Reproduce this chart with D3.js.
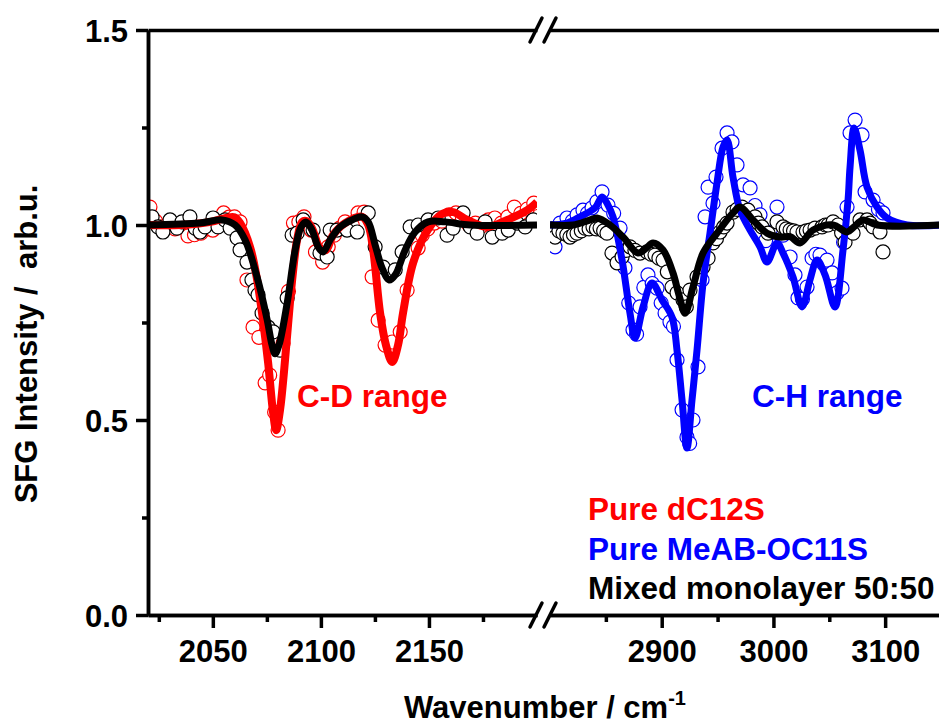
<!DOCTYPE html>
<html><head><meta charset="utf-8">
<script src="https://cdn.jsdelivr.net/npm/d3@7"></script>
<style>
body{margin:0;background:#fff}
svg{display:block}
text{font-family:"Liberation Sans",Arial,sans-serif;font-weight:bold}
</style>
</head><body>
<svg id="c" width="939" height="724"></svg>
<script>
// ---- axes / ticks ----
const leftDomain = [2020, 2200];
const rightDomain = [2800, 3150];
const yDomain = [0, 1.5];
const yTicks = [0, 0.5, 1.0, 1.5];
const yMinor = [0.25, 0.75, 1.25];
const xTicksLeft = [2050, 2100, 2150];
const xMinorLeft = [2025, 2075, 2125, 2175];
const xTicksRight = [2900, 3000, 3100];
const xMinorRight = [2850, 2950, 3050];
const legendLabels = ["Pure dC12S", "Pure MeAB-OC11S", "Mixed monolayer 50:50"];
const seriesColors = ["#ff0000", "#0000ff", "#000000"];

// ---- data: [wavenumber, intensity] ----
const redPoints = [[2020.9,1.046],[2023.5,1.010],[2026.5,0.995],[2029.5,1.005],[2032.5,0.990],[2035.5,1.000],[2038.5,0.972],[2041.5,0.975],[2044.5,0.979],[2047.5,0.990],[2050.0,0.987],[2052.5,1.010],[2055.0,1.031],[2057.5,1.020],[2060.0,1.021],[2062.6,1.008],[2065.8,0.859],[2068.6,0.738],[2071.3,0.712],[2074.2,0.595],[2076.3,0.615],[2078.6,0.520],[2080.2,0.474],[2082.5,0.697],[2085.0,0.830],[2087.3,1.005],[2089.8,1.008],[2092.2,1.021],[2095.5,0.987],[2097.5,0.931],[2100.8,0.905],[2103.4,0.944],[2106.2,0.974],[2108.7,0.992],[2111.2,1.008],[2114.5,1.000],[2117.2,1.031],[2120.0,1.033],[2123.7,0.867],[2126.5,0.756],[2129.7,0.692],[2133.0,0.700],[2136.7,0.726],[2139.9,0.833],[2145.0,0.941],[2146.9,0.974],[2149.5,0.990],[2152.5,1.005],[2156.0,1.010],[2159.3,1.026],[2162.5,1.031],[2165.5,1.018],[2168.5,1.000],[2171.5,1.005],[2174.5,0.998],[2177.5,1.013],[2180.5,1.018],[2183.5,1.005],[2186.5,1.021],[2189.5,1.046],[2192.5,1.030],[2195.5,1.041],[2198.5,1.056]];

const redFit = [[2020,1.000],[2035,1.000],[2049,1.008],[2056,1.018],[2060,1.020],[2062.6,1.005],[2067.2,0.944],[2070.5,0.859],[2073.2,0.756],[2075.6,0.646],[2077.9,0.518],[2079.3,0.474],[2081.1,0.526],[2083.0,0.628],[2084.8,0.744],[2086.7,0.859],[2089.0,0.962],[2091.3,1.008],[2093.5,1.010],[2096.0,0.990],[2099.6,0.941],[2102.4,0.936],[2105.6,0.974],[2111.2,1.005],[2119.1,1.021],[2121.9,1.000],[2124.2,0.936],[2127.4,0.774],[2130.2,0.690],[2133.0,0.649],[2135.7,0.692],[2138.0,0.774],[2142.7,0.903],[2149.2,0.985],[2156.0,1.028],[2161.2,1.033],[2167.7,1.013],[2176.9,0.995],[2186.2,1.013],[2195.5,1.038],[2200,1.059]];

const blackPointsLeft = [[2021.9,1.021],[2024.6,0.995],[2026.9,0.982],[2030.2,1.013],[2033.4,0.992],[2035.7,1.008],[2039.4,1.021],[2041.8,0.992],[2044.1,0.982],[2046.4,0.995],[2050.1,1.018],[2052.4,0.995],[2055.6,1.013],[2058.0,0.992],[2061.2,0.967],[2062.6,0.936],[2065.8,0.905],[2068.1,0.859],[2069.5,0.833],[2070.9,0.821],[2072.8,0.774],[2075.6,0.738],[2077.9,0.726],[2081.1,0.679],[2084.4,0.813],[2086.7,0.974],[2089.0,0.979],[2091.8,1.013],[2096.4,0.987],[2099.6,0.928],[2102.9,0.918],[2104.3,0.987],[2107.5,0.987],[2112.1,0.987],[2116.8,0.982],[2121.9,1.031],[2125.1,0.944],[2128.8,0.892],[2134.4,0.885],[2137.6,0.931],[2141.3,0.995],[2145.0,1.000],[2149.6,1.013],[2154.3,1.018],[2158.4,0.974],[2161.2,0.992],[2165.8,1.031],[2169.1,0.995],[2172.3,0.979],[2176.0,1.008],[2179.3,0.969],[2183.9,0.979],[2186.7,0.987],[2190.8,1.005],[2194.5,0.995],[2198.2,1.013]];

const blackFitLeft = [[2020,1.000],[2044,1.005],[2054.3,1.013],[2060.3,1.000],[2064.9,0.962],[2070.5,0.866],[2075.1,0.758],[2077.4,0.692],[2078.8,0.670],[2080.6,0.692],[2084.4,0.800],[2088.1,0.936],[2090.8,0.995],[2093.1,1.008],[2095.9,0.987],[2098.7,0.944],[2101.0,0.931],[2104.3,0.962],[2108.9,0.995],[2114.4,1.013],[2119.1,1.021],[2121.9,1.008],[2125.1,0.949],[2128.3,0.890],[2131.6,0.859],[2134.4,0.872],[2139.0,0.936],[2143.6,0.982],[2149.6,1.008],[2157.5,1.008],[2169.1,1.000],[2200,1.000]];

const bluePoints = [[2804.5,0.944],[2809.0,1.005],[2815.2,1.018],[2820.0,1.010],[2824.2,1.026],[2829.5,1.038],[2833.5,1.030],[2837.6,1.044],[2842.0,1.060],[2846.6,1.085],[2851.9,1.051],[2857.0,1.030],[2862.7,0.992],[2867.1,0.890],[2870.5,0.800],[2874.3,0.731],[2877.5,0.720],[2880.6,0.790],[2884.0,0.840],[2887.7,0.872],[2891.5,0.850],[2895.8,0.838],[2899.5,0.800],[2903.0,0.774],[2907.4,0.751],[2910.5,0.740],[2913.7,0.654],[2918.2,0.526],[2922.6,0.456],[2925.0,0.440],[2928.0,0.500],[2932.5,0.636],[2936.1,0.859],[2938.8,1.021],[2941.5,1.097],[2945.9,1.056],[2948.6,1.123],[2954.0,1.197],[2958.5,1.236],[2962.9,1.213],[2967.4,1.154],[2972.8,1.103],[2979.1,1.095],[2983.5,1.050],[2988.0,1.026],[2993.0,0.960],[2998.7,0.982],[3003.2,1.046],[3008.6,0.974],[3014.9,0.918],[3019.3,0.872],[3022.0,0.813],[3026.0,0.810],[3030.1,0.841],[3034.6,0.915],[3038.0,0.925],[3041.7,0.923],[3045.0,0.900],[3048.0,0.910],[3052.5,0.877],[3056.9,0.826],[3061.4,0.838],[3062.8,0.956],[3065.9,1.046],[3068.6,1.236],[3073.1,1.269],[3079.3,1.231],[3082.0,1.085],[3089.2,1.064],[3094.0,1.040],[3098.1,1.031]];

const blueFit = [[2800,1.000],[2815,1.005],[2826.9,1.021],[2840.3,1.044],[2846.6,1.072],[2851.9,1.051],[2856.4,1.021],[2864.5,0.910],[2871.6,0.774],[2876.1,0.710],[2883.3,0.790],[2891.3,0.851],[2900.3,0.808],[2909.2,0.764],[2913.7,0.679],[2918.2,0.551],[2922.6,0.428],[2927.1,0.551],[2931.6,0.679],[2937.0,0.851],[2943.2,0.979],[2949.5,1.108],[2954.9,1.200],[2958.5,1.218],[2963.8,1.123],[2970.1,1.038],[2979.1,0.987],[2988.0,0.944],[2994.3,0.905],[3003.2,0.954],[3008.6,0.928],[3017.5,0.867],[3025.6,0.790],[3032.7,0.859],[3039.0,0.910],[3046.2,0.872],[3055.1,0.790],[3062.3,0.936],[3066.8,1.064],[3068.6,1.149],[3072.2,1.249],[3077.5,1.192],[3083.8,1.097],[3092.7,1.046],[3101.7,1.018],[3119.6,1.000],[3150,1.000]];

const blackPointsRight = [[2801.5,0.990],[2804.5,0.969],[2808.0,0.985],[2811.6,0.979],[2815.0,0.975],[2817.9,0.969],[2821.0,0.975],[2824.2,0.979],[2828.0,0.985],[2831.3,0.992],[2835.0,0.990],[2838.5,0.995],[2841.5,0.990],[2844.8,0.992],[2848.0,0.985],[2851.0,0.979],[2855.5,0.928],[2860.0,0.903],[2864.5,0.918],[2868.0,0.935],[2871.6,0.944],[2876.0,0.935],[2880.6,0.928],[2886.8,0.931],[2890.5,0.925],[2894.0,0.923],[2897.5,0.915],[2901.2,0.910],[2905.0,0.880],[2909.2,0.841],[2913.7,0.826],[2919.1,0.808],[2922.0,0.790],[2925.3,0.833],[2931.6,0.867],[2937.0,0.892],[2941.5,0.915],[2945.9,0.954],[2949.0,0.965],[2952.2,0.982],[2955.5,0.995],[2958.5,1.005],[2963.8,1.033],[2967.5,1.040],[2971.9,1.046],[2977.3,1.038],[2983.5,1.021],[2986.5,1.005],[2989.8,0.995],[2995.2,0.979],[3003.2,1.008],[3008.6,0.995],[3011.5,0.990],[3014.9,0.987],[3018.0,0.985],[3021.1,0.982],[3026.5,0.982],[3029.5,0.985],[3032.8,0.987],[3037.2,0.992],[3043.5,0.995],[3046.5,1.000],[3048.9,1.000],[3053.4,1.008],[3057.8,1.000],[3061.0,0.980],[3064.1,0.956],[3071.3,0.979],[3077.5,1.013],[3083.8,1.013],[3086.5,1.005],[3089.2,0.995],[3095.4,0.982],[3098.1,0.931]];

const blackFitRight = [[2800,1.000],[2820.6,1.000],[2835,1.012],[2842.1,1.018],[2853.7,1.000],[2865.4,0.969],[2878.8,0.928],[2886,0.940],[2892.2,0.954],[2901.2,0.936],[2910.1,0.877],[2915.5,0.820],[2920.9,0.774],[2928.0,0.841],[2937.0,0.928],[2949.5,0.979],[2963.8,1.031],[2970.1,1.046],[2981.7,1.013],[2994.3,0.979],[3005.9,0.969],[3015,0.970],[3023.8,0.954],[3035.5,0.987],[3053.4,1.000],[3065.9,0.982],[3072,0.995],[3080.2,1.013],[3092.8,1.000],[3150,1.000]];

// ---- layout ----
const svg = d3.select("#c");
const y = d3.scaleLinear().domain(yDomain).range([615, 30]);
const xL = d3.scaleLinear().domain(leftDomain).range([148, 537]);
const xR = d3.scaleLinear().domain(rightDomain).range([550, 941]);
const AX = 3.5;
const TICKFS = 31, ANNFS = 31.5;

const defs = svg.append("defs");
defs.append("clipPath").attr("id","clipL").append("rect")
  .attr("x", xL.range()[0]).attr("y", 0).attr("width", xL.range()[1]-xL.range()[0]).attr("height", 724);
defs.append("clipPath").attr("id","clipR").append("rect")
  .attr("x", xR.range()[0]).attr("y", 0).attr("width", 939-xR.range()[0]).attr("height", 724);

const gL = svg.append("g").attr("clip-path","url(#clipL)");
const gR = svg.append("g").attr("clip-path","url(#clipR)");

function drawPoints(g, data, x, color){
  g.append("g").selectAll("circle").data(data).join("circle")
    .attr("cx", d=>x(d[0])).attr("cy", d=>y(d[1])).attr("r", 7)
    .attr("fill","#fff").attr("stroke", color).attr("stroke-width", 1.2);
}
function drawLine(g, data, x, color, w){
  const line = d3.line().x(d=>x(d[0])).y(d=>y(d[1])).curve(d3.curveCatmullRom.alpha(0.5));
  g.append("path").datum(data).attr("d", line).attr("fill","none")
    .attr("stroke", color).attr("stroke-width", w).attr("stroke-linejoin","round").attr("stroke-linecap","butt");
}

// points
drawPoints(gL, redPoints, xL, seriesColors[0]);
drawPoints(gR, bluePoints, xR, seriesColors[1]);
drawPoints(gL, blackPointsLeft, xL, seriesColors[2]);
drawPoints(gR, blackPointsRight, xR, seriesColors[2]);
// fits
drawLine(gL, redFit, xL, seriesColors[0], 8);
drawLine(gR, blueFit, xR, seriesColors[1], 7);
drawLine(gL, blackFitLeft, xL, seriesColors[2], 7);
drawLine(gR, blackFitRight, xR, seriesColors[2], 7);

// ---- axes ----
function styleAxis(g, fs){
  g.selectAll("path.domain").attr("stroke","#000").attr("stroke-width",AX);
  g.selectAll(".tick line").attr("stroke","#000").attr("stroke-width",AX);
  g.selectAll(".tick text").attr("fill","#000").style("font-size", fs+"px")
    .style("font-family","'Liberation Sans',Arial,sans-serif").style("font-weight","bold");
  g.attr("font-family", null).attr("font-size", null);
}
// y axis
const yMinorG = svg.append("g").attr("transform",`translate(${xL.range()[0]},0)`)
  .call(d3.axisLeft(y).tickValues(yMinor).tickSize(6).tickSizeOuter(0).tickFormat(""));
styleAxis(yMinorG, TICKFS);
const yG = svg.append("g").attr("transform",`translate(${xL.range()[0]},0)`)
  .call(d3.axisLeft(y).tickValues(yTicks).tickSize(12).tickSizeOuter(0).tickPadding(8).tickFormat(d3.format(".1f")));
styleAxis(yG, TICKFS);
yG.selectAll(".tick text").attr("dy","0.36em");

// x axes bottom
function bottomAxis(x, major, minor){
  const gm = svg.append("g").attr("transform",`translate(0,${y(0)})`)
    .call(d3.axisBottom(x).tickValues(minor).tickSize(7).tickSizeOuter(0).tickFormat(""));
  styleAxis(gm, TICKFS);
  const g = svg.append("g").attr("transform",`translate(0,${y(0)})`)
    .call(d3.axisBottom(x).tickValues(major).tickSize(13).tickSizeOuter(0).tickPadding(12).tickFormat(d3.format("d")));
  styleAxis(g, TICKFS);
}
bottomAxis(xL, xTicksLeft, xMinorLeft);
bottomAxis(xR, xTicksRight, xMinorRight);
// top frame
[xL, xR].forEach(x=>{
  const g = svg.append("g").attr("transform",`translate(0,${y(1.5)})`)
    .call(d3.axisTop(x).tickValues([]).tickSizeOuter(0));
  styleAxis(g, TICKFS);
});

// break marks
[y(0), y(1.5)].forEach(yy=>{
  [xL.range()[1]-1, xR.range()[0]].forEach(cx=>{
    svg.append("line").attr("x1", cx-6).attr("y1", yy+12).attr("x2", cx+6).attr("y2", yy-12)
      .attr("stroke","#000").attr("stroke-width",AX).attr("stroke-linecap","round");
  });
});

// ---- text ----
svg.append("text").attr("transform","translate(37,344) rotate(-90)")
  .attr("text-anchor","middle").style("font-size","31px").attr("fill","#000")
  .text("SFG Intensity /\u00a0 arb.u.");
const xt = svg.append("text").attr("x", 545).attr("y", 718).attr("text-anchor","middle")
  .style("font-size","31px").attr("fill","#000");
xt.append("tspan").text("Wavenumber / cm");
xt.append("tspan").attr("dy",-13).style("font-size","20px").text("-1");

svg.append("text").attr("x", 297).attr("y", 407).style("font-size", ANNFS+"px")
  .attr("fill", seriesColors[0]).text("C-D range");
svg.append("text").attr("x", 752).attr("y", 407).style("font-size", ANNFS+"px")
  .attr("fill", seriesColors[1]).text("C-H range");

legendLabels.forEach((t,i)=>{
  svg.append("text").attr("x", 588).attr("y", 520 + i*39.5).style("font-size", ANNFS+"px")
    .attr("fill", seriesColors[i]).text(t);
});
</script>
</body></html>
